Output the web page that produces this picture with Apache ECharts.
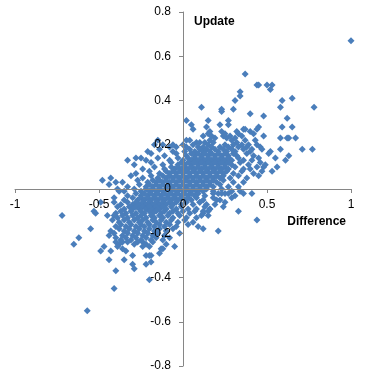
<!DOCTYPE html>
<html><head><meta charset="utf-8">
<script src="https://cdn.jsdelivr.net/npm/echarts@6/dist/echarts.min.js"></script>
<style>html,body{margin:0;padding:0;background:#fff}#c{width:365px;height:378px}</style>
</head><body><div id="c"></div>
<script>
// Axis settings / tick labels
const xTicks = [-1, -0.5, 0, 0.5, 1];
const yTicks = [-0.8, -0.6, -0.4, -0.2, 0, 0.2, 0.4, 0.6, 0.8];
const xTitle = 'Difference';
const yTitle = 'Update';

// Clearly separated outer points [Difference, Update]
const outerPoints = [
[1.00,0.67],[0.37,0.52],[0.44,0.47],[0.45,0.47],[0.50,0.47],[0.53,0.47],[0.52,0.45],[0.34,0.44],[0.34,0.42],[0.31,0.40],
[0.65,0.41],[0.59,0.40],[0.58,0.37],[0.78,0.37],[0.11,0.37],[0.23,0.36],[0.23,0.35],[0.30,0.36],[0.40,0.34],[0.48,0.33],
[0.62,0.32],[0.02,0.31],[0.15,0.31],[0.27,0.31],[0.05,0.29],[0.06,0.27],[0.27,0.29],[0.14,0.28],[0.22,0.29],[0.59,0.28],
[0.65,0.28],[0.36,0.27],[0.37,0.27],[0.44,0.27],[0.45,0.28],[0.40,0.26],[0.16,0.26],[0.15,0.25],[0.23,0.26],[0.32,0.26],
[0.33,0.25],[0.48,0.24],[0.62,0.23],[0.58,0.23],[0.67,0.23],[0.63,0.23],[0.71,0.18],[0.77,0.18],[0.58,0.18],[0.52,0.17],
[0.63,0.15],[0.61,0.13],[0.55,0.14],[0.56,0.10],[0.53,0.08],[0.48,0.10],[0.49,0.11],[0.47,0.08],[0.45,0.06],[0.40,0.09],
[0.41,-0.02],[0.36,-0.02],[0.34,-0.01],[0.33,-0.10],[0.44,-0.14],[0.21,-0.19],[0.11,-0.12],[0.12,-0.18],
[-0.48,0.04],[-0.43,0.05],[-0.44,0.02],[-0.40,0.03],[-0.39,0.00],[-0.38,-0.01],[-0.49,-0.06],[-0.53,-0.10],[-0.52,-0.11],
[-0.72,-0.12],[-0.55,-0.18],[-0.62,-0.22],[-0.65,-0.25],[-0.47,-0.26],[-0.49,-0.28],[-0.43,-0.28],[-0.44,-0.32],[-0.40,-0.37],
[-0.41,-0.45],[-0.57,-0.55],[-0.20,-0.41],[-0.35,-0.32],[-0.30,-0.30],[-0.22,-0.30],[-0.20,-0.30],[-0.19,-0.30],[-0.30,-0.34],
[-0.22,-0.34],[-0.19,-0.33],[-0.29,-0.36],[-0.05,-0.26],[-0.14,-0.29],[-0.02,-0.20],[-0.15,0.22],[-0.17,0.20],[-0.33,0.13],
[-0.28,0.14],[-0.25,0.14],[-0.31,0.06]
];

// Dense central cloud [Difference, Update]
const densePoints = [
[-0.12,0.20],[-0.08,0.19],[-0.04,0.19],[0.02,0.22],[0.04,0.22],[0.08,0.21],[0.10,0.21],[0.13,0.21],[0.16,0.22],[0.18,0.21],
[0.24,0.24],[0.26,0.23],[0.28,0.24],[0.29,0.22],[0.32,0.21],[0.35,0.20],[0.37,0.22],[0.39,0.20],[0.43,0.22],[0.44,0.20],
[0.25,0.25],[0.12,0.24],[0.19,0.23],[0.30,0.20],[-0.06,0.20],[0.00,0.20],[0.35,0.24],[0.31,0.23],[0.42,0.25],[0.17,0.24],
[0.02,0.19],[0.06,0.20],[0.09,0.19],[0.12,0.19],[0.15,0.20],[0.17,0.19],[0.22,0.19],[0.25,0.20],[0.27,0.19],[0.33,0.19],
[0.38,0.19],[0.41,0.18],[0.46,0.19],
[-0.21,0.17],[-0.14,0.18],[-0.06,0.17],[0.01,0.17],[0.04,0.18],[0.07,0.17],[0.10,0.18],[0.12,0.17],[0.14,0.18],[0.16,0.17],
[0.19,0.18],[0.21,0.17],[0.24,0.18],[0.26,0.17],[0.29,0.18],[0.31,0.17],[0.36,0.18],[0.40,0.17],[0.47,0.18],[0.51,0.16],
[-0.19,0.16],[-0.11,0.15],[-0.04,0.16],[0.02,0.15],[0.05,0.16],[0.07,0.15],[0.09,0.16],[0.11,0.15],[0.13,0.16],[0.15,0.15],
[0.17,0.16],[0.19,0.15],[0.21,0.16],[0.23,0.15],[0.25,0.16],[0.27,0.15],[0.30,0.16],[0.32,0.15],[0.38,0.16],[0.42,0.15],[0.45,0.14],
[-0.22,0.13],[-0.15,0.14],[-0.08,0.13],[-0.03,0.14],[0.00,0.13],[0.03,0.14],[0.05,0.13],[0.07,0.14],[0.09,0.13],[0.11,0.14],
[0.13,0.13],[0.15,0.14],[0.17,0.13],[0.19,0.14],[0.21,0.13],[0.23,0.14],[0.25,0.13],[0.27,0.14],[0.29,0.13],[0.33,0.14],
[0.36,0.13],[0.41,0.13],[0.46,0.12],
[-0.29,0.11],[-0.19,0.12],[-0.12,0.11],[-0.07,0.12],[-0.03,0.11],[-0.01,0.12],[0.01,0.11],[0.03,0.12],[0.05,0.11],[0.07,0.12],
[0.09,0.11],[0.11,0.12],[0.13,0.11],[0.15,0.12],[0.17,0.11],[0.19,0.12],[0.21,0.11],[0.23,0.12],[0.25,0.11],[0.27,0.12],
[0.29,0.11],[0.34,0.12],[0.39,0.11],
[-0.24,0.09],[-0.17,0.10],[-0.11,0.09],[-0.07,0.10],[-0.05,0.09],[-0.03,0.10],[-0.01,0.09],[0.01,0.10],[0.03,0.09],[0.05,0.10],
[0.07,0.09],[0.09,0.10],[0.11,0.09],[0.13,0.10],[0.15,0.09],[0.17,0.10],[0.19,0.09],[0.21,0.10],[0.23,0.09],[0.25,0.10],
[0.27,0.09],[0.31,0.10],[0.36,0.09],[0.44,0.10],
[-0.28,0.07],[-0.20,0.08],[-0.14,0.07],[-0.10,0.08],[-0.08,0.07],[-0.06,0.08],[-0.04,0.07],[-0.02,0.08],[0.00,0.07],[0.02,0.08],
[0.04,0.07],[0.06,0.08],[0.08,0.07],[0.10,0.08],[0.12,0.07],[0.14,0.08],[0.16,0.07],[0.18,0.08],[0.20,0.07],[0.22,0.08],
[0.24,0.07],[0.26,0.08],[0.30,0.07],[0.35,0.08],[0.42,0.07],
[-0.24,0.05],[-0.19,0.06],[-0.15,0.05],[-0.12,0.06],[-0.10,0.05],[-0.08,0.06],[-0.06,0.05],[-0.04,0.06],[-0.02,0.05],[0.00,0.06],
[0.02,0.05],[0.04,0.06],[0.06,0.05],[0.08,0.06],[0.10,0.05],[0.12,0.06],[0.14,0.05],[0.16,0.06],[0.18,0.05],[0.20,0.06],
[0.22,0.05],[0.24,0.06],[0.28,0.05],[0.33,0.06],[0.38,0.05],
[-0.36,0.03],[-0.27,0.04],[-0.21,0.03],[-0.18,0.04],[-0.16,0.03],[-0.14,0.04],[-0.12,0.03],[-0.10,0.04],[-0.08,0.03],[-0.06,0.04],
[-0.04,0.03],[-0.02,0.04],[0.00,0.03],[0.02,0.04],[0.04,0.03],[0.06,0.04],[0.08,0.03],[0.10,0.04],[0.12,0.03],[0.14,0.04],
[0.16,0.03],[0.18,0.04],[0.20,0.03],[0.24,0.04],[0.30,0.03],[0.36,0.03],
[-0.33,0.01],[-0.26,0.02],[-0.22,0.01],[-0.20,0.02],[-0.18,0.01],[-0.16,0.02],[-0.14,0.01],[-0.12,0.02],[-0.10,0.01],[-0.08,0.02],
[-0.06,0.01],[-0.04,0.02],[-0.02,0.01],[0.00,0.02],[0.02,0.01],[0.04,0.02],[0.06,0.01],[0.08,0.02],[0.10,0.01],[0.12,0.02],
[0.14,0.01],[0.16,0.02],[0.18,0.01],[0.22,0.02],[0.27,0.01],[0.33,0.01],
[-0.35,-0.01],[-0.29,0.00],[-0.25,-0.01],[-0.22,0.00],[-0.20,-0.01],[-0.18,0.00],[-0.16,-0.01],[-0.14,0.00],[-0.12,-0.01],[-0.10,0.00],
[-0.08,-0.01],[-0.06,0.00],[-0.04,-0.01],[-0.02,0.00],[0.00,-0.01],[0.02,0.00],[0.04,-0.01],[0.06,0.00],[0.08,-0.01],[0.10,0.00],
[0.12,-0.01],[0.14,0.00],[0.18,-0.01],[0.23,0.00],[0.29,-0.01],
[-0.33,-0.03],[-0.28,-0.02],[-0.25,-0.03],[-0.23,-0.02],[-0.21,-0.03],[-0.19,-0.02],[-0.17,-0.03],[-0.15,-0.02],[-0.13,-0.03],[-0.11,-0.02],
[-0.09,-0.03],[-0.07,-0.02],[-0.05,-0.03],[-0.03,-0.02],[-0.01,-0.03],[0.01,-0.02],[0.03,-0.03],[0.05,-0.02],[0.07,-0.03],[0.09,-0.02],
[0.13,-0.03],[0.18,-0.02],[0.21,-0.02],[0.23,-0.02],[0.25,-0.02],[0.27,-0.02],[0.31,-0.03],
[-0.41,-0.04],[-0.35,-0.05],[-0.30,-0.04],[-0.27,-0.05],[-0.25,-0.04],[-0.23,-0.05],[-0.21,-0.04],[-0.19,-0.05],[-0.17,-0.04],[-0.15,-0.05],
[-0.13,-0.04],[-0.11,-0.05],[-0.09,-0.04],[-0.07,-0.05],[-0.05,-0.04],[-0.03,-0.05],[-0.01,-0.04],[0.01,-0.05],[0.03,-0.04],[0.05,-0.05],
[0.08,-0.04],[0.12,-0.05],[0.18,-0.04],[0.22,-0.05],[0.29,-0.04],
[-0.41,-0.06],[-0.37,-0.07],[-0.33,-0.06],[-0.30,-0.07],[-0.28,-0.06],[-0.26,-0.07],[-0.24,-0.06],[-0.22,-0.07],[-0.20,-0.06],[-0.18,-0.07],
[-0.16,-0.06],[-0.14,-0.07],[-0.12,-0.06],[-0.10,-0.07],[-0.08,-0.06],[-0.06,-0.07],[-0.04,-0.06],[-0.01,-0.07],[0.02,-0.06],[0.06,-0.07],
[0.10,-0.06],[0.14,-0.07],[0.19,-0.07],[0.25,-0.06],[0.24,-0.08],
[-0.39,-0.08],[-0.35,-0.09],[-0.32,-0.08],[-0.30,-0.09],[-0.28,-0.08],[-0.26,-0.09],[-0.24,-0.08],[-0.22,-0.09],[-0.20,-0.08],[-0.18,-0.09],
[-0.16,-0.08],[-0.14,-0.09],[-0.12,-0.08],[-0.10,-0.09],[-0.07,-0.08],[-0.04,-0.09],[-0.01,-0.08],[0.03,-0.09],[0.08,-0.09],[0.13,-0.08],[0.16,-0.09],
[-0.40,-0.11],[-0.37,-0.10],[-0.34,-0.11],[-0.31,-0.10],[-0.28,-0.11],[-0.25,-0.10],[-0.23,-0.11],[-0.20,-0.10],[-0.18,-0.11],[-0.16,-0.10],
[-0.13,-0.11],[-0.11,-0.10],[-0.08,-0.11],[-0.06,-0.10],[-0.03,-0.11],[0.00,-0.10],[0.04,-0.11],[0.07,-0.10],[0.12,-0.11],
[-0.45,-0.12],[-0.41,-0.12],[-0.39,-0.13],[-0.36,-0.12],[-0.33,-0.13],[-0.30,-0.12],[-0.27,-0.13],[-0.25,-0.12],[-0.22,-0.13],[-0.19,-0.12],
[-0.17,-0.13],[-0.14,-0.12],[-0.12,-0.13],[-0.09,-0.12],[-0.06,-0.13],[-0.02,-0.12],[0.02,-0.13],[0.08,-0.13],[0.15,-0.12],
[-0.42,-0.14],[-0.38,-0.15],[-0.35,-0.14],[-0.32,-0.15],[-0.29,-0.14],[-0.26,-0.15],[-0.24,-0.14],[-0.21,-0.15],[-0.18,-0.14],[-0.16,-0.15],
[-0.13,-0.14],[-0.10,-0.15],[-0.07,-0.14],[-0.03,-0.15],[0.01,-0.14],[0.06,-0.15],
[-0.40,-0.17],[-0.37,-0.16],[-0.34,-0.17],[-0.31,-0.16],[-0.28,-0.17],[-0.25,-0.16],[-0.23,-0.17],[-0.20,-0.16],[-0.17,-0.17],[-0.14,-0.16],
[-0.11,-0.17],[-0.08,-0.16],[-0.04,-0.17],[0.03,-0.16],[0.09,-0.17],
[-0.43,-0.19],[-0.38,-0.18],[-0.35,-0.19],[-0.32,-0.18],[-0.29,-0.19],[-0.26,-0.18],[-0.23,-0.19],[-0.20,-0.18],[-0.17,-0.19],[-0.14,-0.18],
[-0.10,-0.19],[-0.06,-0.18],
[-0.44,-0.21],[-0.41,-0.20],[-0.36,-0.21],[-0.33,-0.20],[-0.30,-0.21],[-0.27,-0.20],[-0.24,-0.21],[-0.21,-0.20],[-0.18,-0.21],[-0.15,-0.20],
[-0.11,-0.21],
[-0.40,-0.22],[-0.37,-0.23],[-0.34,-0.22],[-0.31,-0.23],[-0.28,-0.22],[-0.25,-0.23],[-0.22,-0.22],[-0.19,-0.23],[-0.16,-0.22],[-0.12,-0.23],
[-0.08,-0.22],
[-0.40,-0.24],[-0.38,-0.25],[-0.36,-0.24],[-0.33,-0.24],[-0.29,-0.25],[-0.27,-0.24],[-0.24,-0.24],[-0.22,-0.25],[-0.18,-0.24],[-0.10,-0.25],
[-0.39,-0.26],[-0.36,-0.27],[-0.34,-0.28],[-0.24,-0.26],[-0.20,-0.26],[-0.13,-0.27],[-0.12,-0.27],
[0.16,-0.09],[0.12,-0.10],[0.20,-0.05],[0.10,-0.06],[0.15,-0.10]
];

const allPoints = outerPoints.concat(densePoints);

// Grid box in pixels and the offsets that move each axis onto the other's zero
const G = {left: 15, right: 14, top: 12, bottom: 12, w: 365, h: 378};
const plotW = G.w - G.left - G.right, plotH = G.h - G.top - G.bottom;
const xMin = xTicks[0], xMax = xTicks[xTicks.length - 1];
const yMin = yTicks[0], yMax = yTicks[yTicks.length - 1];
const xAxisOffset = -plotH * (0 - yMin) / (yMax - yMin);
const yAxisOffset = -plotW * (0 - xMin) / (xMax - xMin);

const chart = echarts.init(document.getElementById('c'), null, {renderer: 'canvas'});
const fam = 'Liberation Sans, Arial, sans-serif';
chart.setOption({
  animation: false,
  backgroundColor: '#fff',
  grid: {left: G.left, right: G.right, top: G.top, bottom: G.bottom, containLabel: false, outerBoundsMode: 'none'},
  xAxis: {
    type: 'value', min: xMin, max: xMax, interval: 0.5, position: 'bottom', offset: xAxisOffset, z: 10,
    name: xTitle, nameLocation: 'end', nameGap: 0,
    nameTextStyle: {color: '#000', fontSize: 12, fontWeight: 'bold', fontFamily: fam, align: 'right', verticalAlign: 'top', padding: [27, 5, 0, 0]},
    axisLine: {onZero: false, lineStyle: {color: '#868686', width: 1}},
    axisTick: {show: true, inside: false, length: 4, lineStyle: {color: '#868686'}},
    axisLabel: {margin: 10, color: '#000', fontSize: 12, fontFamily: fam},
    splitLine: {show: false}
  },
  yAxis: {
    type: 'value', min: yMin, max: yMax, interval: 0.2, position: 'left', offset: yAxisOffset, z: 10,
    name: yTitle, nameLocation: 'end', nameGap: -4,
    nameTextStyle: {color: '#000', fontSize: 12, fontWeight: 'bold', fontFamily: fam, align: 'left', verticalAlign: 'top', padding: [0, 0, 0, 11]},
    axisLine: {onZero: false, lineStyle: {color: '#868686', width: 1}},
    axisTick: {show: true, inside: false, length: 4, lineStyle: {color: '#868686'}},
    axisLabel: {margin: 12, color: '#000', fontSize: 12, fontFamily: fam},
    splitLine: {show: false}
  },
  series: [{
    type: 'scatter',
    name: 'Update vs Difference',
    data: allPoints,
    symbol: 'diamond',
    symbolSize: 7,
    z: 2,
    itemStyle: {color: '#4A7EBB', opacity: 1}
  }]
});
</script></body></html>
